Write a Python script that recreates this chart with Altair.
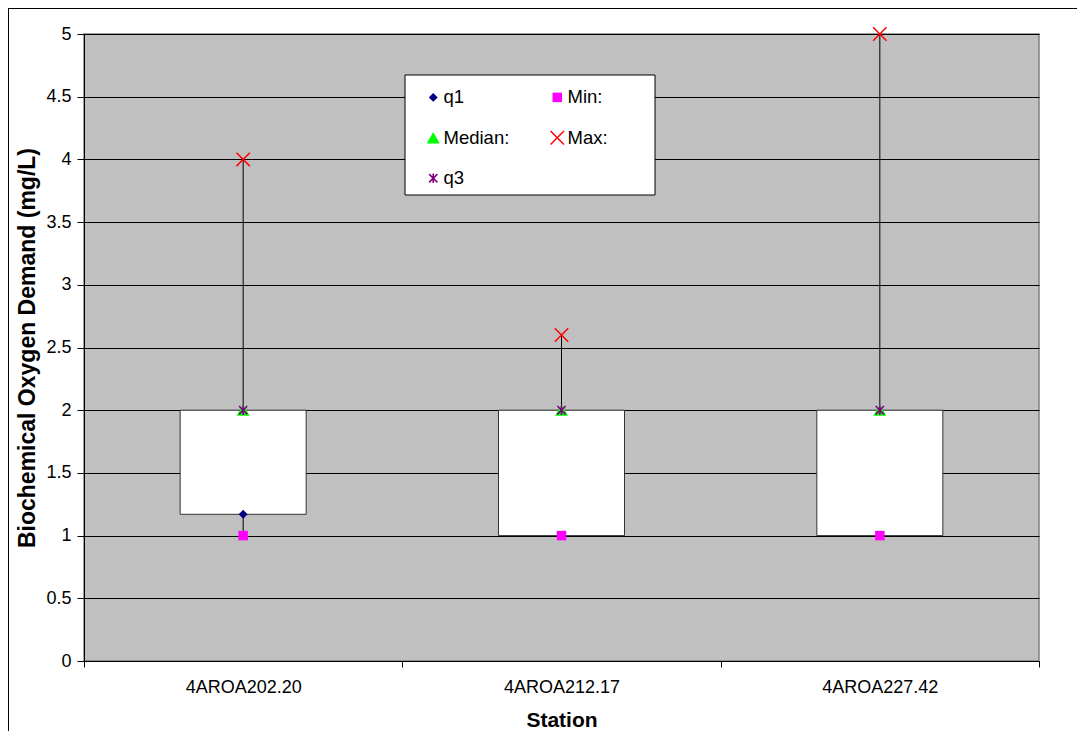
import math
import altair as alt
import pandas as pd

# ---- data ----
stations = ["4AROA202.20", "4AROA212.17", "4AROA227.42"]
q1_vals = [1.17, 1.0, 1.0]
min_vals = [1.0, 1.0, 1.0]
median_vals = [2.0, 2.0, 2.0]
max_vals = [4.0, 2.6, 5.0]
q3_vals = [2.0, 2.0, 2.0]
y_ticks = [0, 0.5, 1, 1.5, 2, 2.5, 3, 3.5, 4, 4.5, 5]

series_names = ["q1", "Min:", "Median:", "Max:", "q3"]
series_colors = ["#000080", "#FF00FF", "#00FF00", "#FF0000", "#800080"]


def seg_rect(x1, y1, x2, y2, h):
    dx, dy = x2 - x1, y2 - y1
    ln = math.hypot(dx, dy)
    dx, dy = dx / ln, dy / ln
    nx, ny = -dy, dx
    pts = [(x1 + nx * h, y1 + ny * h), (x2 + nx * h, y2 + ny * h),
           (x2 - nx * h, y2 - ny * h), (x1 - nx * h, y1 - ny * h)]
    return "M" + "L".join(f"{px:.3f},{py:.3f}" for px, py in pts) + "Z"


X_PATH = seg_rect(-1, -1, 1, 1, 0.11) + seg_rect(-1, 1, 1, -1, 0.11)
STAR_PATH = (seg_rect(0, -1, 0, 1, 0.16) + seg_rect(-0.85, -0.85, 0.85, 0.85, 0.16)
             + seg_rect(-0.85, 0.85, 0.85, -0.85, 0.16))

series_shapes = ["diamond", "square", "triangle-up", X_PATH, STAR_PATH]
series_sizes = [80, 90, 170, 180, 95]

box_df = pd.DataFrame({"station": stations, "q1": q1_vals, "q3": q3_vals,
                       "min": min_vals, "max": max_vals})
rows = []
for i, s in enumerate(stations):
    for name, vals in zip(series_names, [q1_vals, min_vals, median_vals, max_vals, q3_vals]):
        rows.append({"station": s, "series": name, "value": vals[i]})
pts_df = pd.DataFrame(rows)
one_df = pd.DataFrame({"a": [0]})

FONT = "Liberation Sans"
W, H = 955, 627

x_enc = alt.X(
    "station:N",
    scale=alt.Scale(domain=stations, paddingInner=0, paddingOuter=0),
    axis=alt.Axis(
        title="Station", titleFont=FONT, titleFontSize=21, titleFontWeight="bold",
        titleColor="black", titleY=65, titleBaseline="alphabetic",
        labelAngle=0, labelFont=FONT, labelFontSize=18, labelColor="black",
        labelPadding=11, tickSize=6, tickBand="extent", tickColor="black",
        domainColor="black", grid=False,
    ),
)


def y_enc(field):
    return alt.Y(
        field,
        type="quantitative",
        scale=alt.Scale(domain=[0, 5], nice=False, zero=True),
        axis=alt.Axis(
            title="Biochemical Oxygen Demand (mg/L)", titleFont=FONT, titleFontSize=23,
            titleFontWeight="bold", titleColor="black", titleAngle=270, titleX=-50,
            titleY=H / 2, titleAlign="center", titleBaseline="alphabetic",
            values=y_ticks, labelExpr="'' + datum.value", labelFont=FONT,
            labelFontSize=18, labelColor="black", labelPadding=6, tickSize=7,
            tickColor="black", domainColor="black", grid=True, gridColor="black",
            gridWidth=1, gridOpacity=1,
        ),
    )


frame = alt.Chart(one_df).mark_rect(fillOpacity=0, stroke="black", strokeWidth=2).encode(
    x=alt.value(-76), x2=alt.value(1100), y=alt.value(-26), y2=alt.value(800)
)

legend_box = alt.Chart(one_df).mark_rect(fill="white", stroke="black", strokeWidth=1).encode(
    x=alt.value(321), x2=alt.value(571), y=alt.value(41), y2=alt.value(161)
)

whisk = alt.Chart(box_df).mark_rule(color="black", strokeWidth=1).encode(
    x=x_enc, y=y_enc("min"), y2="max:Q"
)

box = alt.Chart(box_df).mark_bar(size=126, fill="white", stroke="#333333", strokeWidth=1).encode(
    x=x_enc, y=y_enc("q1"), y2="q3:Q"
)

leg = alt.Legend(
    title=None, orient="none", legendX=340, legendY=54, columns=2, direction="horizontal",
    columnPadding=38, rowPadding=21.5, labelFont=FONT, labelFontSize=18.5,
    labelColor="black", labelOffset=1, padding=0, symbolStrokeWidth=0,
)

points = alt.Chart(pts_df).mark_point(filled=True, opacity=1, strokeWidth=0).encode(
    x=x_enc,
    y=y_enc("value"),
    color=alt.Color("series:N", scale=alt.Scale(domain=series_names, range=series_colors), legend=leg),
    shape=alt.Shape("series:N", scale=alt.Scale(domain=series_names, range=series_shapes), legend=leg),
    size=alt.Size("series:N", scale=alt.Scale(type="ordinal", domain=series_names, range=series_sizes), legend=leg),
)

chart = alt.layer(frame, legend_box, whisk, box, points).properties(
    width=W, height=H,
    padding={"left": 76, "top": 26, "right": 38, "bottom": 70},
    autosize=alt.AutoSizeParams(type="none"),
    background="white",
).configure_view(
    fill="#C0C0C0", stroke="#808080", strokeWidth=1.5
)

chart.save("out.html", embed_options={"renderer": "svg", "actions": False})
